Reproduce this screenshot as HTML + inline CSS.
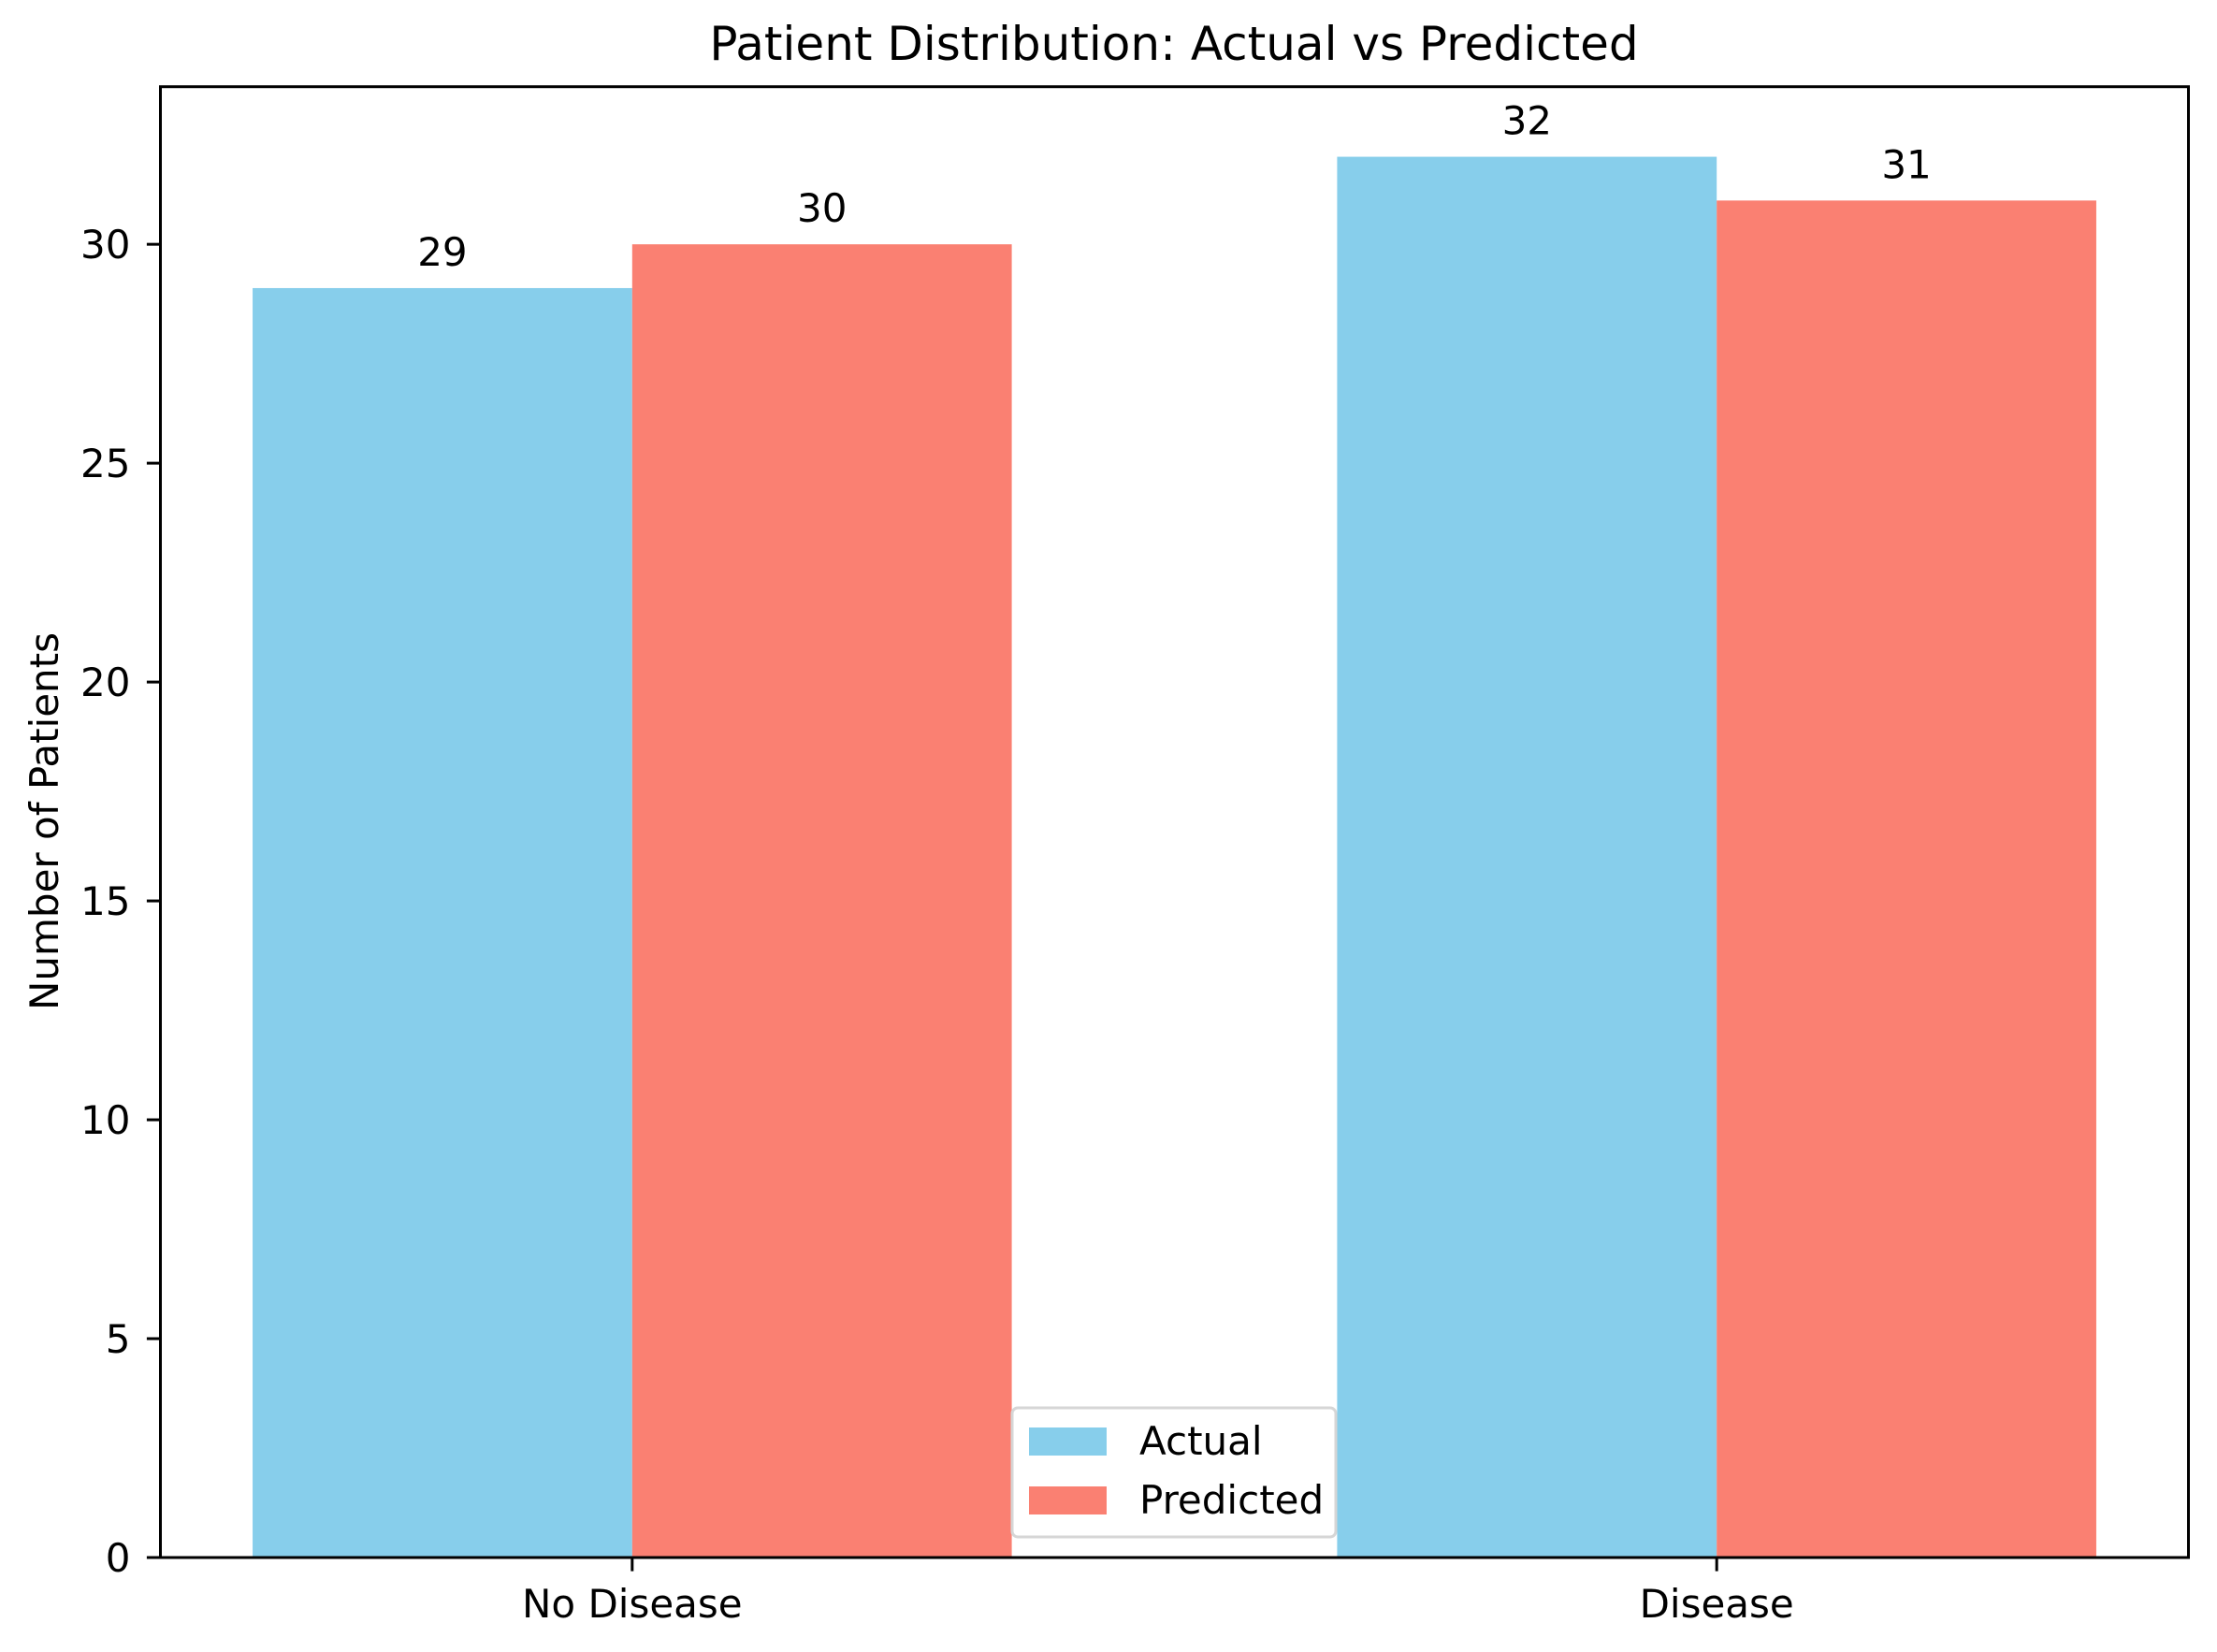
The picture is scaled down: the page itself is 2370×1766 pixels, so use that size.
<!DOCTYPE html>
<html><head><meta charset="utf-8"><style>
body{margin:0;background:#fff}
svg{display:block;font-family:"DejaVu Sans","Liberation Sans",sans-serif}
</style></head><body>
<svg id="chart" width="2370" height="1766" viewBox="0 0 2370 1766">
<rect width="2370" height="1766" fill="#fff"/>
<text x="1255" y="64" font-size="50" text-anchor="middle">Patient Distribution: Actual vs Predicted</text>
<text transform="translate(62,878) rotate(-90)" font-size="42" text-anchor="middle">Number of Patients</text>
<g id="bars"></g>
<g id="yaxis"></g>
<g id="xaxis"></g>
<rect x="171.5" y="92.7" width="2168" height="1572.3" fill="none" stroke="#000" stroke-width="3"/>
<g>
<rect x="1082" y="1505" width="346" height="138" rx="6" fill="#fff" fill-opacity="0.8" stroke="#d6d6d6" stroke-width="3"/>
<g>
<rect x="1100" y="1526" width="83" height="30" fill="#87CEEB"/>
<text x="1218" y="1555" font-size="42">Actual</text></g>
<g>
<rect x="1100" y="1589" width="83" height="30" fill="#FA8072"/>
<text x="1218" y="1618" font-size="42">Predicted</text></g>
</g>
</svg>
<script>
const categories = ["No Disease", "Disease"];
const actualValues = [29, 32];
const predictedValues = [30, 31];
const yTicks = [0, 5, 10, 15, 20, 25, 30];

const NS = "http://www.w3.org/2000/svg";
const X0 = 171.5, X1 = 2339.5, Y0 = 1665, Y1 = 92.7;
const xmin = -0.435, xmax = 1.435, ymin = 0, ymax = 33.6;
const xs = v => X0 + (v - xmin) / (xmax - xmin) * (X1 - X0);
const ys = v => Y0 - (v - ymin) / (ymax - ymin) * (Y0 - Y1);
const barW = 0.35;
function mk(tag, attrs, parent) { const e = document.createElementNS(NS, tag); for (const k in attrs) e.setAttribute(k, attrs[k]); parent.appendChild(e); return e; }
const bars = document.getElementById('bars');
const series = [[actualValues, "#87CEEB", -1, "actual"], [predictedValues, "#FA8072", 0, "predicted"]];
series.forEach(([vals, col, off, nm]) => {
  vals.forEach((v, i) => {
    const l = xs(i + off * barW), r = xs(i + (off + 1) * barW);
    const b = mk('rect', {x: l, y: ys(v), width: r - l, height: ys(0) - ys(v), fill: col}, bars);
    
    
    const t = mk('text', {x: (l + r) / 2, y: ys(v) - 24, 'font-size': 42, 'text-anchor': 'middle'}, bars);
    
    
    t.textContent = v;
  });
});
const ya = document.getElementById('yaxis');
yTicks.forEach(v => {
  const y = ys(v);
  const l = mk('line', {x1: X0 - 14.6, x2: X0, y1: y, y2: y, stroke: '#000', 'stroke-width': 3}, ya);
  
  
  const t = mk('text', {x: X0 - 32, y: y + 15, 'font-size': 42, 'text-anchor': 'end'}, ya);
  
  
  t.textContent = v;
});
const xa = document.getElementById('xaxis');
categories.forEach((c, i) => {
  const x = xs(i);
  const l = mk('line', {x1: x, x2: x, y1: Y0, y2: Y0 + 14.6, stroke: '#000', 'stroke-width': 3}, xa);
  
  
  const t = mk('text', {x: x, y: Y0 + 64, 'font-size': 42, 'text-anchor': 'middle'}, xa);
  
  
  t.textContent = c;
});
</script>
</body></html>
